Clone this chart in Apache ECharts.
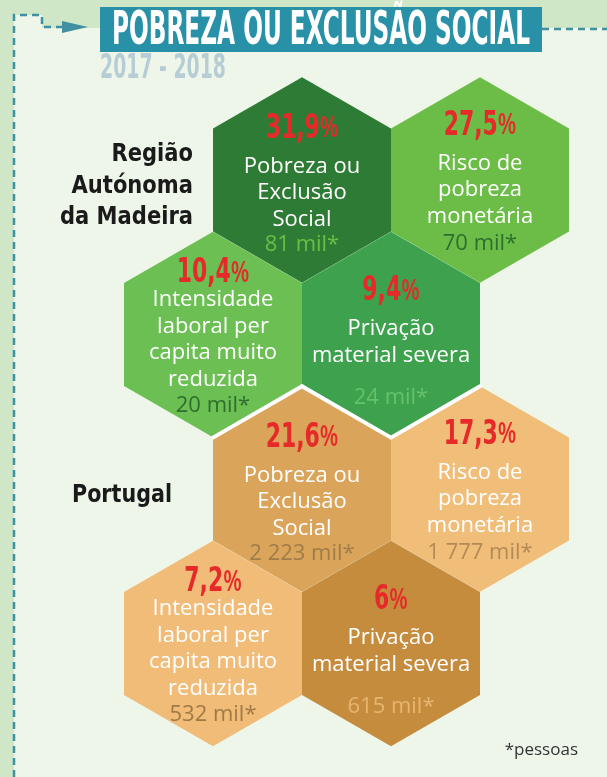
<!DOCTYPE html>
<html>
<head>
<meta charset="utf-8">
<script src="https://cdn.jsdelivr.net/npm/echarts@6/dist/echarts.min.js"></script>
<style>
html, body { margin: 0; padding: 0; background: #eef6ea; }
#chart { width: 607px; height: 777px; }
</style>
</head>
<body>
<div id="chart"></div>
<script>
// data
const regions = ['Região\nAutónoma\nda Madeira', 'Portugal'];
const indicators = ['Pobreza ou\nExclusão\nSocial', 'Risco de\npobreza\nmonetária', 'Intensidade\nlaboral per\ncapita muito\nreduzida', 'Privação\nmaterial severa'];
const madeiraPct = [31.9, 27.5, 10.4, 9.4];
const madeiraMil = [81, 70, 20, 24];
const portugalPct = [21.6, 17.3, 7.2, 6];
const portugalMil = [2223, 1777, 532, 615];

// honeycomb layout (col = half hex widths, row = hex rows)
const hexCol = [2, 4, 1, 3];
const hexRow = [0, 0, 1, 1];
const HALF_W = 89, ROW_H = 154.5, ORIGIN_X = 124, ORIGIN_Y = 180;
const W = 607, H = 777;

const fills = [
  ['#2e7b35', '#6cbd47', '#6cbf52', '#3ea14e'],
  ['#daa55a', '#f1be7a', '#f0bc78', '#c68c3e']
];
const milColors = [
  ['#6cbd47', '#2e6e2f', '#2e6e2f', '#66c26a'],
  ['#a07c48', '#b38a55', '#a07a45', '#e6b670']
];
// text offsets from hex centre, px
const pctDy = [-51, -54, -61, -43];
const lineDy = [-14, -17, -35, -6];
const milDy = [65, 64, 71, 63];

const COND = '"DejaVu Sans Condensed", "DejaVu Sans", sans-serif';
const SANS = '"Open Sans", "Noto Sans", sans-serif';

const fmtPct = v => String(v).replace('.', ',');
const fmtMil = v => String(v).replace(/\B(?=(\d{3})+(?!\d))/g, ' ') + ' mil*';

const rows = [];
[[madeiraPct, madeiraMil], [portugalPct, portugalMil]].forEach(([pct, mil], g) => {
  pct.forEach((p, k) => rows.push([hexCol[k], hexRow[k] + g * 2, g, k, p, mil[k]]));
});
// which group sits in each cell, to draw the white seam between the two groups
const cellGroup = {};
rows.forEach(r => { cellGroup[r[0] + ',' + r[1]] = r[2]; });

// squeeze bold condensed text to a target width
const ctx = document.createElement('canvas').getContext('2d');
const fitScale = (text, font, width) => {
  ctx.font = font;
  return width / ctx.measureText(text).width;
};

function renderItem(params, api) {
  const col = api.value(0), row = api.value(1);
  const c = api.coord([col, row]);
  const R = api.size([1, 1])[0] * 2 / Math.sqrt(3);
  const g = api.value(2), k = api.value(3);
  const pts = [];
  for (let i = 0; i < 6; i++) {
    const a = Math.PI / 180 * (-90 + 60 * i);
    pts.push([c[0] + R * Math.cos(a), c[1] + R * Math.sin(a)]);
  }
  const children = [{ type: 'polygon', shape: { points: pts }, style: { fill: fills[g][k] } }];
  const seam = (nb, p1, p2) => {
    const ng = cellGroup[nb];
    if (ng !== undefined && ng !== g) {
      children.push({
        type: 'line', shape: { x1: p1[0], y1: p1[1], x2: p2[0], y2: p2[1] },
        style: { stroke: '#ffffff', lineWidth: 4, lineCap: 'round' }
      });
    }
  };
  seam((col - 1) + ',' + (row - 1), pts[5], pts[0]);
  seam((col + 1) + ',' + (row - 1), pts[0], pts[1]);

  children.push({
    type: 'text', x: c[0], y: c[1] + pctDy[k], scaleX: 0.74,
    style: {
      text: '{n|' + fmtPct(api.value(4)) + '}{p|%}',
      align: 'center', verticalAlign: 'middle',
      rich: {
        n: { font: 'bold 33px ' + COND, fill: '#e62a2a' },
        p: { font: '600 29px ' + SANS, fill: '#e62a2a' }
      }
    }
  });
  children.push({
    type: 'text', x: c[0], y: c[1] + lineDy[k] - 13,
    style: {
      text: indicators[k], align: 'center', verticalAlign: 'top',
      font: '22px ' + SANS, lineHeight: 26.5, fill: '#ffffff'
    }
  });
  children.push({
    type: 'text', x: c[0], y: c[1] + milDy[k],
    style: {
      text: fmtMil(api.value(5)), align: 'center', verticalAlign: 'middle',
      font: '22px ' + SANS, fill: milColors[g][k]
    }
  });
  return { type: 'group', children };
}

const title = 'POBREZA OU EXCLUSÃO SOCIAL';
const titleFont = 'bold 46px ' + COND;
const yearFont = 'bold 33px ' + COND;
const regionFont = 'bold 25px ' + COND;

const chart = echarts.init(document.getElementById('chart'));
chart.setOption({
  animation: false,
  grid: { left: 0, right: 0, top: 0, bottom: 0 },
  xAxis: { type: 'value', show: false, min: -ORIGIN_X / HALF_W, max: (W - ORIGIN_X) / HALF_W },
  yAxis: { type: 'value', show: false, inverse: true, min: -ORIGIN_Y / ROW_H, max: (H - ORIGIN_Y) / ROW_H },
  graphic: [
    { type: 'rect', z: -20, shape: { x: 0, y: 0, width: W, height: H }, style: { fill: '#cfe7c7' } },
    { type: 'polygon', z: -19, shape: { points: [[14, 15], [42, 15], [42, 28], [W, 28], [W, H], [14, H]] }, style: { fill: '#eef6ea' } },
    { type: 'polyline', z: -18, shape: { points: [[14, H], [14, 15], [42, 15], [42, 27], [64, 27]] },
      style: { stroke: '#3f91a2', lineWidth: 2.5, lineDash: [7, 5], fill: null } },
    { type: 'polygon', z: -18, shape: { points: [[62, 21], [88, 27], [62, 33]] }, style: { fill: '#3f91a2' } },
    { type: 'polyline', z: -18, shape: { points: [[542, 29], [W, 29]] },
      style: { stroke: '#3f91a2', lineWidth: 2.5, lineDash: [7, 5], fill: null } },
    { type: 'rect', z: -17, shape: { x: 100, y: 7, width: 442, height: 45 }, style: { fill: '#2891a8' } },
    { type: 'text', z: -16, x: 321, y: 32, scaleX: fitScale(title, titleFont, 418),
      style: { text: title, font: titleFont, fill: '#ffffff', align: 'center', verticalAlign: 'middle' } },
    { type: 'text', z: -16, x: 100, y: 69, scaleX: fitScale('2017 - 2018', yearFont, 126),
      style: { text: '2017 - 2018', font: yearFont, fill: '#b7cdd5', align: 'left', verticalAlign: 'middle' } },
    { type: 'text', z: -16, x: 193, y: 186, scaleX: fitScale('da Madeira', regionFont, 133),
      style: { text: regions[0], font: regionFont, lineHeight: 31.5, fill: '#1a1a1a', align: 'right', verticalAlign: 'middle' } },
    { type: 'text', z: -16, x: 122, y: 495, scaleX: fitScale('Portugal', regionFont, 100),
      style: { text: regions[1], font: regionFont, fill: '#1a1a1a', align: 'center', verticalAlign: 'middle' } },
    { type: 'text', z: -16, x: 578, y: 750,
      style: { text: '*pessoas', font: '17px ' + SANS, fill: '#333333', align: 'right', verticalAlign: 'middle' } }
  ],
  series: [{
    type: 'custom',
    renderItem,
    encode: { x: 0, y: 1 },
    data: rows
  }]
});
</script>
</body>
</html>
